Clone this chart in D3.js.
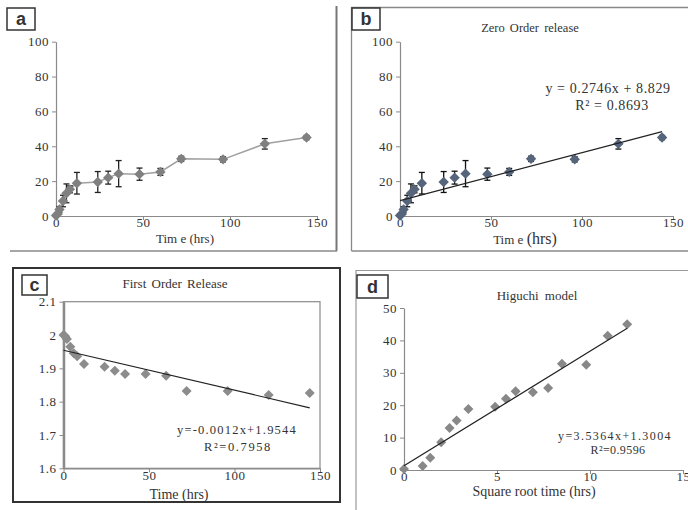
<!DOCTYPE html>
<html><head><meta charset="utf-8">
<script src="https://cdn.jsdelivr.net/npm/d3@7/dist/d3.min.js"></script>
<style>
body{margin:0;background:#fff;}
svg text{font-family:"Liberation Serif","Times New Roman",serif;fill:#333;}
</style></head>
<body><svg id="c" width="688" height="510"></svg>
<script>
// ---- data ----
const timeHrs   = [0, 1, 2, 4, 6, 8, 12, 24, 30, 36, 48, 60, 72, 96, 120, 144];
const released  = [0.3, 1.2, 3.8, 8.6, 13.0, 15.3, 18.8, 19.5, 22.0, 24.3, 24.0, 25.3, 32.8, 32.5, 41.4, 45.0];
const releaseSD = [0.4, 0.8, 1.6, 3.3, 5.4, 2.0, 6.2, 6.0, 3.7, 7.5, 3.5, 2.0, 1.5, 1.5, 3.0, 1.2];
const logRemain = [2.0, 1.996, 1.988, 1.965, 1.945, 1.936, 1.913, 1.905, 1.893, 1.883, 1.883, 1.878, 1.832, 1.832, 1.820, 1.826];
const sqrtTime  = [0, 1, 1.41, 2, 2.45, 2.83, 3.46, 4.9, 5.48, 6, 6.93, 7.75, 8.49, 9.8, 10.95, 12];
const xTicksTime = [0, 50, 100, 150];
const yTicksRel  = [0, 20, 40, 60, 80, 100];
const yTicksLog  = [1.6, 1.7, 1.8, 1.9, 2, 2.1];
const xTicksSqrt = [0, 5, 10, 15];
const yTicksHig  = [0, 10, 20, 30, 40, 50];
const zeroFit  = {slope: 0.2746, intercept: 8.829, r2: "0.8693"};
const firstFit = {slope: -0.0012, intercept: 1.9544, r2: "0.7958"};
const higFit   = {slope: 3.5364, intercept: 1.3004, r2: "0.9596"};

const SERIF = "'Liberation Serif','Times New Roman',serif";
const svg = d3.select("#c");
const diamond = (r) => `M0,${-r}L${r},0L0,${r}L${-r},0Z`;

function axes(g, x, y, xt, yt, fmtY) {
  const ax = g.append("g").attr("transform", `translate(0,${y.range()[0]})`)
    .call(d3.axisBottom(x).tickValues(xt).tickSize(4).tickSizeOuter(0));
  const ay = g.append("g").attr("transform", `translate(${x.range()[0]},0)`)
    .call(d3.axisLeft(y).tickValues(yt).tickSize(4).tickSizeOuter(0).tickPadding(3).tickFormat(fmtY || (d => d)));
  [ax, ay].forEach(a => {
    a.attr("font-family", SERIF);
    a.select(".domain").attr("stroke", "#8a8a8a").attr("stroke-width", 1.2);
    a.selectAll(".tick line").attr("stroke", "#8a8a8a");
    a.selectAll(".tick text").style("font-family", SERIF).style("font-size", "13px")
      .style("letter-spacing", "0.5px").attr("fill", "#333");
  });
  ax.selectAll(".tick text").attr("y", 2);
  return [ax, ay];
}
function labelBox(x, y, w, h, t) {
  svg.append("rect").attr("x", x).attr("y", y).attr("width", w).attr("height", h)
    .attr("fill", "#fff").attr("stroke", "#333").attr("stroke-width", 1.5);
  svg.append("text").attr("x", x + w / 2).attr("y", y + h / 2 + 6).attr("text-anchor", "middle")
    .style("font-family", "'Liberation Sans',Arial,sans-serif").style("font-weight", "bold")
    .style("font-size", "18px").attr("fill", "#111").text(t);
}
function errorBars(g, x, y, col) {
  timeHrs.forEach((t, i) => {
    const cx = x(t), y1 = y(released[i] + releaseSD[i]), y2 = y(released[i] - releaseSD[i]);
    g.append("line").attr("x1", cx).attr("x2", cx).attr("y1", y1).attr("y2", y2).attr("stroke", col).attr("stroke-width", 1.3);
    [y1, y2].forEach(yy => g.append("line").attr("x1", cx - 3).attr("x2", cx + 3).attr("y1", yy).attr("y2", yy).attr("stroke", col).attr("stroke-width", 1.3));
  });
}
function eqText(g, x, y, size, ls, txt) {
  g.append("text").attr("x", x).attr("y", y).attr("text-anchor", "middle")
    .style("font-size", size + "px").style("letter-spacing", ls + "px").attr("fill", "#222").text(txt);
}

// ---- panel frames ----
svg.append("line").attr("x1", 336.5).attr("x2", 336.5).attr("y1", 6).attr("y2", 251).attr("stroke", "#777").attr("stroke-width", 2);
svg.append("line").attr("x1", 10).attr("x2", 337).attr("y1", 251).attr("y2", 251).attr("stroke", "#888").attr("stroke-width", 1.5);
svg.append("path").attr("d", "M351.5,251V7.5H688").attr("fill", "none").attr("stroke", "#888").attr("stroke-width", 1.3);
svg.append("line").attr("x1", 351.5).attr("x2", 688).attr("y1", 251).attr("y2", 251).attr("stroke", "#888").attr("stroke-width", 1.3);
svg.append("rect").attr("x", 13).attr("y", 268).attr("width", 327).attr("height", 234).attr("fill", "none").attr("stroke", "#333").attr("stroke-width", 2);
svg.append("path").attr("d", "M356,510V270.5H688").attr("fill", "none").attr("stroke", "#999").attr("stroke-width", 1.2);

// ---- panel a ----
{
  const g = svg.append("g");
  const x = d3.scaleLinear().domain([0, 150]).range([56, 317]);
  const y = d3.scaleLinear().domain([0, 100]).range([216, 41.7]);
  axes(g, x, y, xTicksTime, yTicksRel);
  g.append("path").datum(timeHrs.map((t, i) => [t, released[i]]))
    .attr("d", d3.line().x(d => x(d[0])).y(d => y(d[1])))
    .attr("fill", "none").attr("stroke", "#a0a0a0").attr("stroke-width", 1.5);
  errorBars(g, x, y, "#222");
  timeHrs.forEach((t, i) => g.append("path").attr("d", diamond(5.2))
    .attr("transform", `translate(${x(t)},${y(released[i])})`).attr("fill", "#808080"));
  g.append("text").attr("x", 185).attr("y", 243).attr("text-anchor", "middle").style("font-size", "13px").text("Tim e (hrs)");
  labelBox(7, 8, 28, 22, "a");
}
// ---- panel b ----
{
  const g = svg.append("g");
  const x = d3.scaleLinear().domain([0, 150]).range([400, 673]);
  const y = d3.scaleLinear().domain([0, 100]).range([216, 41.7]);
  axes(g, x, y, xTicksTime, yTicksRel);
  errorBars(g, x, y, "#111");
  timeHrs.forEach((t, i) => g.append("path").attr("d", diamond(5.2))
    .attr("transform", `translate(${x(t)},${y(released[i])})`).attr("fill", "#56657c"));
  g.append("line").attr("x1", x(0)).attr("x2", x(144))
    .attr("y1", y(zeroFit.intercept)).attr("y2", y(zeroFit.intercept + zeroFit.slope * 144))
    .attr("stroke", "#222").attr("stroke-width", 1.2);
  eqText(g, 608, 93, 14, 0.6, `y = ${zeroFit.slope}x + ${zeroFit.intercept}`);
  eqText(g, 612, 110, 14, 0.6, `R² = ${zeroFit.r2}`);
  g.append("text").attr("x", 530).attr("y", 32).attr("text-anchor", "middle").style("font-size", "12.5px").style("word-spacing", "2px").text("Zero Order release");
  const t = g.append("text").attr("x", 525).attr("y", 244).attr("text-anchor", "middle").style("font-size", "13px");
  t.append("tspan").text("Tim e ");
  t.append("tspan").style("font-size", "16px").text("(hrs)");
  labelBox(352, 8, 28, 22, "b");
}
// ---- panel c ----
{
  const g = svg.append("g");
  const x = d3.scaleLinear().domain([0, 150]).range([63.5, 320]);
  const y = d3.scaleLinear().domain([1.6, 2.1]).range([468.3, 301.7]);
  g.append("rect").attr("x", x(0)).attr("y", y(2.1)).attr("width", x(150) - x(0)).attr("height", y(1.6) - y(2.1))
    .attr("fill", "none").attr("stroke", "#8a8a8a").attr("stroke-width", 1.2);
  const [ax, ay] = axes(g, x, y, xTicksTime, yTicksLog, d => d3.format("")(d));
  ay.select(".domain").attr("stroke-width", 2.5);
  timeHrs.forEach((t, i) => g.append("path").attr("d", diamond(5))
    .attr("transform", `translate(${x(t)},${y(logRemain[i])})`).attr("fill", "#8c8c8c"));
  g.append("line").attr("x1", x(0)).attr("x2", x(144))
    .attr("y1", y(firstFit.intercept)).attr("y2", y(firstFit.intercept + firstFit.slope * 144))
    .attr("stroke", "#222").attr("stroke-width", 1.2);
  eqText(g, 237, 434, 12.5, 1.2, `y=${firstFit.slope}x+${firstFit.intercept}`);
  eqText(g, 238, 451, 12.5, 1.6, `R²=${firstFit.r2}`);
  g.append("text").attr("x", 175).attr("y", 288).attr("text-anchor", "middle").style("font-size", "13px").style("word-spacing", "2px").text("First Order Release");
  g.append("text").attr("x", 179).attr("y", 499).attr("text-anchor", "middle").style("font-size", "14px").text("Time (hrs)");
  labelBox(22, 275, 25, 20, "c");
}
// ---- panel d ----
{
  const g = svg.append("g");
  const x = d3.scaleLinear().domain([0, 15]).range([404, 683]);
  const y = d3.scaleLinear().domain([0, 50]).range([470, 308]);
  axes(g, x, y, xTicksSqrt, yTicksHig);
  timeHrs.forEach((t, i) => g.append("path").attr("d", diamond(5))
    .attr("transform", `translate(${x(sqrtTime[i])},${y(released[i])})`).attr("fill", "#888"));
  g.append("line").attr("x1", x(0)).attr("x2", x(12))
    .attr("y1", y(higFit.intercept)).attr("y2", y(higFit.intercept + higFit.slope * 12))
    .attr("stroke", "#222").attr("stroke-width", 1.2);
  eqText(g, 615, 440, 12, 1.4, `y=${higFit.slope}x+${higFit.intercept}`);
  eqText(g, 618, 453.5, 12, 0.4, `R²=${higFit.r2}`);
  g.append("text").attr("x", 537).attr("y", 300).attr("text-anchor", "middle").style("font-size", "13px").style("word-spacing", "3px").text("Higuchi model");
  g.append("text").attr("x", 534).attr("y", 496).attr("text-anchor", "middle").style("font-size", "14px").text("Square root time (hrs)");
  labelBox(357, 275, 31, 23, "d");
}
</script></body></html>
